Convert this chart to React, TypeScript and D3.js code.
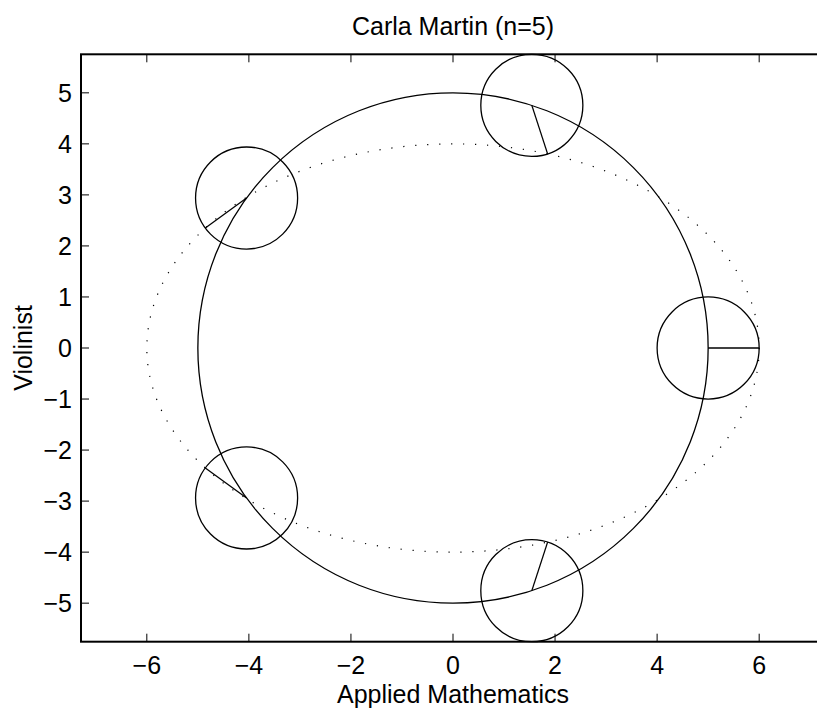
import React from 'react';
import * as d3 from 'd3';

// small circles: centres on the r=5 circle, lines out to the 6x4 ellipse
const centerX = [5, 1.545, -4.045, -4.045, 1.545];
const centerY = [0, 4.755, 2.939, -2.939, -4.755];
const spokeX = [6, 1.854, -4.854, -4.854, 1.854];
const spokeY = [0, 3.804, 2.351, -2.351, -3.804];
const bigRadius = 5;
const smallRadius = 1;
const ellipseRx = 6;
const ellipseRy = 4;

const xTicks = [-6, -4, -2, 0, 2, 4, 6];
const yTicks = [-5, -4, -3, -2, -1, 0, 1, 2, 3, 4, 5];

const titleText = 'Carla Martin (n=5)';
const xLabel = 'Applied Mathematics';
const yLabel = 'Violinist';

const width = 817;
const height = 713;
const font = '"Liberation Sans", Arial, Helvetica, sans-serif';
const fontSize = 25;

const fmt = (v: number) => (v < 0 ? '\u2212' + Math.abs(v) : String(v));

export default function App() {
  const x = d3.scaleLinear().domain([-7.29, 7.29]).range([81, 825]);
  const y = d3.scaleLinear().domain([-5.755, 5.755]).range([641.7, 54.3]);
  const unit = x(1) - x(0);
  const [x0, x1] = x.range();
  const [y0, y1] = y.range();
  const tick = 8;

  return (
    <svg
      width={width}
      height={height}
      style={{ position: 'absolute', left: 0, top: 0, background: '#fff' }}
      fontFamily={font}
    >
      <rect x={0} y={0} width={width} height={height} fill="#fff" />

      {/* dotted ellipse */}
      <ellipse
        cx={x(0)}
        cy={y(0)}
        rx={ellipseRx * unit}
        ry={ellipseRy * unit}
        fill="none"
        stroke="#000"
        strokeWidth={1.2}
        strokeDasharray="1.2 10.8"
      />
      {/* big circle */}
      <circle cx={x(0)} cy={y(0)} r={bigRadius * unit} fill="none" stroke="#000" strokeWidth={1.3} />

      {centerX.map((cx, i) => (
        <g key={i}>
          <circle cx={x(cx)} cy={y(centerY[i])} r={smallRadius * unit} fill="none" stroke="#000" strokeWidth={1.3} />
          <line x1={x(cx)} y1={y(centerY[i])} x2={x(spokeX[i])} y2={y(spokeY[i])} stroke="#000" strokeWidth={1.3} />
        </g>
      ))}

      {/* axes box */}
      <rect x={x0} y={y1} width={x1 - x0} height={y0 - y1} fill="none" stroke="#000" strokeWidth={2} />

      {xTicks.map((t) => (
        <g key={'x' + t}>
          <line x1={x(t)} x2={x(t)} y1={y0} y2={y0 - tick} stroke="#000" strokeWidth={1} />
          <line x1={x(t)} x2={x(t)} y1={y1} y2={y1 + tick} stroke="#000" strokeWidth={1} />
          <text x={x(t)} y={674} fontSize={fontSize} textAnchor="middle" fill="#000">
            {fmt(t)}
          </text>
        </g>
      ))}
      {yTicks.map((t) => (
        <g key={'y' + t}>
          <line x1={x0} x2={x0 + tick} y1={y(t)} y2={y(t)} stroke="#000" strokeWidth={1} />
          <line x1={x1} x2={x1 - tick} y1={y(t)} y2={y(t)} stroke="#000" strokeWidth={1} />
          <text x={72} y={y(t)} dy="0.35em" fontSize={fontSize} textAnchor="end" fill="#000">
            {fmt(t)}
          </text>
        </g>
      ))}

      <text x={x(0)} y={35} fontSize={fontSize} textAnchor="middle" fill="#000">
        {titleText}
      </text>
      <text x={x(0)} y={703} fontSize={fontSize} textAnchor="middle" fill="#000">
        {xLabel}
      </text>
      <text
        transform={`translate(32,${y(0)}) rotate(-90)`}
        fontSize={fontSize}
        textAnchor="middle"
        fill="#000"
      >
        {yLabel}
      </text>
    </svg>
  );
}
